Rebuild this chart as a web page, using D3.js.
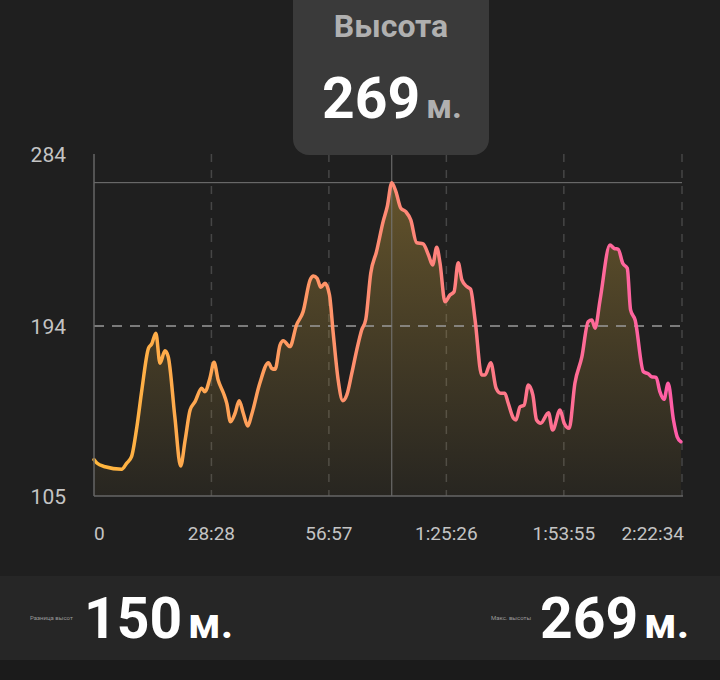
<!DOCTYPE html>
<html>
<head>
<meta charset="utf-8">
<script src="https://cdn.jsdelivr.net/npm/d3@7"></script>
<style>
  html, body { margin: 0; padding: 0; background: #1f1f1f; }
  svg { display: block; font-family: Roboto, "Noto Sans", sans-serif; }
</style>
</head>
<body>
<div id="chart"></div>
<script>
// time since start, minutes
const minutes = [0, 0.7, 1.5, 2.7, 6.7, 7.9, 9.1, 10.4, 11.6, 13.2, 14.0, 15.0, 16.0, 17.2, 18.0, 19.6,
  21.0, 22.1, 23.3, 24.5, 26.1, 26.9, 28.1, 29.1, 30.1, 31.4, 32.2, 33.1, 34.2, 35.2, 36.2, 37.3,
  38.2, 40.2, 42.3, 43.1, 43.9, 45.1, 45.9, 47.5, 49.1, 50.7, 52.4, 53.2, 54.1, 55.0, 56.0, 57.1,
  58.0, 59.2, 60.3, 61.3, 62.5, 63.7, 64.9, 65.9, 67.1, 68.5, 70.1, 71.1, 72.2, 73.2, 74.4, 75.6,
  76.8, 78.2, 79.8, 81.1, 82.1, 83.1, 83.9, 85.1, 86.3, 87.3, 88.3, 89.2, 90.4, 91.3, 92.4, 94.0,
  94.8, 96.2, 97.5, 98.6, 99.6, 100.4, 101.7, 102.3, 103.3, 104.3, 105.3, 106.4, 107.3, 108.3, 110.2,
  111.2, 113.0, 114.0, 115.2, 116.6, 118.3, 119.8, 120.7, 121.5, 122.7, 125.1, 126.1, 127.1, 128.2,
  129.3, 130.1, 131.2, 133.2, 134.4, 135.2, 136.3, 137.2, 138.2, 139.2, 140.5, 141.4, 142.3]
// elevation, metres
const elevation = [124, 122.3, 121.2, 120.3, 119, 122.1, 125.6, 141.3, 160.5, 182.3, 184.6, 190.2, 174.5, 181, 177.9, 146.5,
  120.7, 134.3, 150, 154.4, 161.4, 159.6, 166.6, 175, 165.7, 158.8, 153.5, 143.9, 148.3, 154.9, 148.3, 141.6,
  147.4, 164, 174.8, 171.8, 171.3, 184, 186.3, 183.2, 194.5, 201.5, 218.1, 220.1, 218.9, 214.2, 216.3, 210.2,
  190.2, 165.7, 154.9, 157.9, 169.2, 181.4, 191.9, 197.5, 221.6, 232.9, 248.6, 256.4, 269, 264.3, 255.6, 253.8,
  249.5, 237.6, 236.9, 231.1, 225.9, 235.2, 226.8, 206.7, 210.2, 211.9, 227.1, 218.1, 214.6, 213.3, 197.1, 168.3,
  168.3, 174.8, 161.4, 158.8, 158.8, 153.8, 145.7, 144.8, 151.7, 152.6, 163.1, 157.9, 144.8, 143.1, 148.6,
  139.5, 150, 143.1, 140.4, 164, 177.9, 196.2, 197.1, 192.8, 207.6, 236.4, 234.6, 234.1, 226.8,
  224.2, 202.4, 197.1, 170.1, 168.9, 167.4, 167.1, 159.6, 155.6, 164, 144.8, 136, 133.4]

const xTickSeconds = [0, 1708, 3417, 5126, 6835, 8554]
const xTickLabels = ["0", "28:28", "56:57", "1:25:26", "1:53:55", "2:22:34"]
const yTickValues = [105, 194, 284]
const yTickLabels = ["105", "194", "284"]
const maxElev = 269, elevDiff = 150

const width = 720, height = 680
const data = minutes.map((m, i) => ({ t: m * 60, e: elevation[i] }))

const x = d3.scaleLinear().domain([0, 8554]).range([94, 682])
const y = d3.scaleLinear().domain([105, 284]).range([496, 154])

const svg = d3.select("#chart").append("svg")
  .attr("width", width).attr("height", height)

svg.append("rect").attr("width", width).attr("height", height).attr("fill", "#1f1f1f")

const defs = svg.append("defs")
const lineGrad = defs.append("linearGradient").attr("id", "lineGrad")
  .attr("gradientUnits", "userSpaceOnUse")
  .attr("x1", x(0)).attr("x2", x(8554)).attr("y1", 0).attr("y2", 0)
lineGrad.append("stop").attr("offset", "0%").attr("stop-color", "#ffb73d")
lineGrad.append("stop").attr("offset", "50%").attr("stop-color", "#ff8a74")
lineGrad.append("stop").attr("offset", "100%").attr("stop-color", "#ff5ca8")

const areaGrad = defs.append("linearGradient").attr("id", "areaGrad")
  .attr("gradientUnits", "userSpaceOnUse")
  .attr("x1", 0).attr("x2", 0).attr("y1", y(maxElev)).attr("y2", y(105))
areaGrad.append("stop").attr("offset", "0%").attr("stop-color", "#c9a13e").attr("stop-opacity", 0.4)
areaGrad.append("stop").attr("offset", "100%").attr("stop-color", "#c9a13e").attr("stop-opacity", 0.05)

// vertical dashed grid
svg.append("g").selectAll("line")
  .data(xTickSeconds.slice(1))
  .join("line")
  .attr("x1", d => x(d)).attr("x2", d => x(d))
  .attr("y1", y(284)).attr("y2", y(105))
  .attr("stroke", "#464646").attr("stroke-width", 1.5)
  .attr("stroke-dasharray", "8,8")

// area + line
svg.append("path").datum(data)
  .attr("fill", "url(#areaGrad)")
  .attr("d", d3.area().x(d => x(d.t)).y0(y(105)).y1(d => y(d.e)).curve(d3.curveMonotoneX))

// max line + average dashed line
svg.append("line")
  .attr("x1", x(0)).attr("x2", x(8554))
  .attr("y1", y(maxElev)).attr("y2", y(maxElev))
  .attr("stroke", "#777").attr("stroke-width", 1)
svg.append("line")
  .attr("x1", x(0)).attr("x2", x(8554))
  .attr("y1", y(194)).attr("y2", y(194))
  .attr("stroke", "#9a9a9a").attr("stroke-width", 1.5)
  .attr("stroke-dasharray", "10,8")

// crosshair at peak
const peak = data.reduce((a, b) => b.e > a.e ? b : a)
svg.append("line")
  .attr("x1", x(peak.t)).attr("x2", x(peak.t))
  .attr("y1", y(284)).attr("y2", y(105))
  .attr("stroke", "#777").attr("stroke-width", 1)

svg.append("path").datum(data)
  .attr("fill", "none")
  .attr("stroke", "url(#lineGrad)")
  .attr("stroke-width", 3.5)
  .attr("stroke-linejoin", "round")
  .attr("stroke-linecap", "round")
  .attr("d", d3.line().x(d => x(d.t)).y(d => y(d.e)).curve(d3.curveMonotoneX))

// axes lines
svg.append("line").attr("x1", x(0)).attr("x2", x(0)).attr("y1", y(284)).attr("y2", y(105))
  .attr("stroke", "#666").attr("stroke-width", 1.5)
svg.append("line").attr("x1", x(0)).attr("x2", x(8554) + 1).attr("y1", y(105)).attr("y2", y(105))
  .attr("stroke", "#666").attr("stroke-width", 1.5)

// y labels
svg.append("g").selectAll("text")
  .data(yTickValues)
  .join("text")
  .attr("x", 66).attr("y", d => y(d) + 8)
  .attr("text-anchor", "end")
  .attr("fill", "#c4c4c4").attr("font-size", 21)
  .text((d, i) => yTickLabels[i])

// x labels
svg.append("g").selectAll("text")
  .data(xTickSeconds)
  .join("text")
  .attr("x", (d, i) => i === xTickSeconds.length - 1 ? x(d) + 2 : x(d))
  .attr("y", 540)
  .attr("text-anchor", (d, i) => i === 0 ? "start" : (i === xTickSeconds.length - 1 ? "end" : "middle"))
  .attr("fill", "#c4c4c4").attr("font-size", 19)
  .text((d, i) => xTickLabels[i])

// tooltip
const tip = svg.append("g")
tip.append("rect")
  .attr("x", 293).attr("y", -20).attr("width", 196).attr("height", 175)
  .attr("rx", 16).attr("fill", "#3a3a3a")
tip.append("text")
  .attr("x", 391).attr("y", 37).attr("text-anchor", "middle")
  .attr("fill", "#b0b0b0").attr("font-size", 32).attr("font-weight", 700)
  .text("Высота")
const tipVal = tip.append("text")
  .attr("x", 392).attr("y", 118).attr("text-anchor", "middle")
tipVal.append("tspan").attr("fill", "#ffffff").attr("font-size", 57).attr("font-weight", 700)
  .text(maxElev)
tipVal.append("tspan").attr("fill", "#b0b0b0").attr("font-size", 34).attr("font-weight", 700)
  .attr("dx", 6).text("м.")

// bottom summary panel
svg.append("rect").attr("x", 0).attr("y", 576).attr("width", width).attr("height", 84).attr("fill", "#262626")
svg.append("rect").attr("x", 0).attr("y", 660).attr("width", width).attr("height", 20).attr("fill", "#1b1b1b")

svg.append("text").attr("x", 30).attr("y", 620)
  .attr("fill", "#9a9a9a").attr("font-size", 6).text("Разница высот")
const left = svg.append("text").attr("x", 84).attr("y", 638)
left.append("tspan").attr("fill", "#fff").attr("font-size", 57).attr("font-weight", 700).text(elevDiff)
left.append("tspan").attr("fill", "#fff").attr("font-size", 43).attr("font-weight", 700).attr("dx", 6).text("м.")

svg.append("text").attr("x", 491).attr("y", 620)
  .attr("fill", "#9a9a9a").attr("font-size", 6).text("Макс. высоты")
const right = svg.append("text").attr("x", 540).attr("y", 638)
right.append("tspan").attr("fill", "#fff").attr("font-size", 57).attr("font-weight", 700).text(maxElev)
right.append("tspan").attr("fill", "#fff").attr("font-size", 43).attr("font-weight", 700).attr("dx", 6).text("м.")
</script>
</body>
</html>
